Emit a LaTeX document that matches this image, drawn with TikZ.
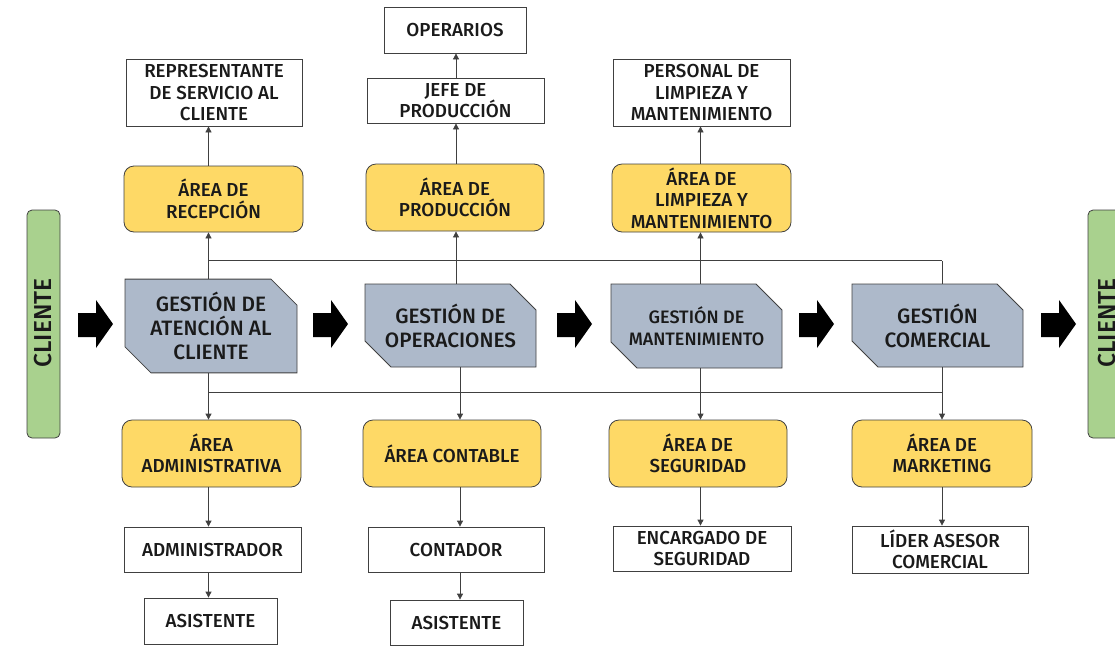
\documentclass[tikz,border=0pt]{standalone}
\usepackage{fontspec}
\setmainfont{Fira Sans Medium}
\usetikzlibrary{shapes.misc,arrows.meta}
\definecolor{areayel}{HTML}{FED966}
\definecolor{gestblue}{HTML}{ADB9CA}
\definecolor{cligreen}{HTML}{A9D18E}
\definecolor{edgegray}{HTML}{404040}
\definecolor{txt}{HTML}{1A1A1A}
\tikzset{
  base/.style={draw=edgegray, line width=0.8pt, text=txt, align=center, inner sep=0pt, font=\fontsize{18.8}{21.5}\selectfont},
  whitebox/.style={base, rectangle, fill=white},
  areabox/.style={base, rectangle, rounded corners=10pt, fill=areayel},
  gestbox/.style={base, chamfered rectangle, chamfered rectangle corners={north east,south west},
     chamfered rectangle xsep=13pt, chamfered rectangle ysep=13pt, fill=gestblue,
     font=\fontsize{20.8}{24}\selectfont},
  clientbox/.style={base, rectangle, rounded corners=5pt, fill=cligreen, minimum width=33pt, minimum height=228pt},
  cliText/.style={rotate=90, font=\fontsize{24.5}{26}\selectfont, text=txt, inner sep=0pt},
  conn/.style={draw=edgegray, line width=0.8pt},
  arr/.style={conn, -{Triangle[length=6pt,width=6pt]}},
}
\newcommand\fatarrowat[1]{%
  \fill[black] (#1,313) -- ++(18,0) -- ++(0,-13) -- ++(17,24) -- ++(-17,24) -- ++(0,-11) -- ++(-18,0) -- cycle;}
\begin{document}
\begin{tikzpicture}[x=1pt,y=-1pt]
\useasboundingbox (0,0) rectangle (1115,654);
% column guide coordinates
\coordinate (c1) at (208.5,0);
\coordinate (c2) at (456,0);
\coordinate (c2b) at (460,0);
\coordinate (c3) at (700.5,0);
\coordinate (c4) at (942,0);
\coordinate (toprail) at (0,260.5);
\coordinate (botrail) at (0,392);

% clients
\node[clientbox] (cliL) at (43.5,324) {};
\node[cliText] (cliLt) at (43.5,323) {CLIENTE};
\node[clientbox] (cliR) at (1104.5,324) {};
\node[cliText] (cliRt) at (1107,323) {CLIENTE};

% column 1
\node[whitebox, minimum width=176pt, minimum height=67pt] (rep) at (214,92.5) {REPRESENTANTE\\DE SERVICIO AL\\CLIENTE};
\node[areabox, minimum width=179pt, minimum height=66pt] (recep) at (213.5,199) {ÁREA DE\\RECEPCIÓN};
\node[gestbox, minimum width=172pt, minimum height=84pt] (g1) at (211,326) {GESTIÓN DE\\ATENCIÓN AL\\CLIENTE};
\node[areabox, minimum width=179pt, minimum height=67pt] (adm) at (211.5,453.5) {ÁREA\\ADMINISTRATIVA};
\node[whitebox, minimum width=177pt, minimum height=45pt] (admr) at (212.5,549.5) {ADMINISTRADOR};
\node[whitebox, minimum width=133pt, minimum height=46pt] (asis1) at (210.5,621) {ASISTENTE};

% column 2
\node[whitebox, minimum width=142pt, minimum height=46pt] (oper) at (455,30) {OPERARIOS};
\node[whitebox, minimum width=177pt, minimum height=45pt] (jefe) at (455.5,100.5) {JEFE DE\\PRODUCCIÓN};
\node[areabox, minimum width=178pt, minimum height=67pt] (prod) at (455,197.5) {ÁREA DE\\PRODUCCIÓN};
\node[gestbox, minimum width=171pt, minimum height=83pt] (g2) at (450.5,325.5) {GESTIÓN DE\\OPERACIONES};
\node[areabox, minimum width=178pt, minimum height=67pt] (cont) at (452,453.5) {ÁREA CONTABLE};
\node[whitebox, minimum width=176pt, minimum height=45pt] (contr) at (456,549.5) {CONTADOR};
\node[whitebox, minimum width=133pt, minimum height=45pt] (asis2) at (456.5,622.5) {ASISTENTE};

% column 3
\node[whitebox, minimum width=177pt, minimum height=67pt] (pers) at (701.5,92.5) {PERSONAL DE\\LIMPIEZA Y\\MANTENIMIENTO};
\node[areabox, minimum width=179pt, minimum height=68pt] (limp) at (701.5,198) {ÁREA DE\\LIMPIEZA Y\\MANTENIMIENTO};
\node[gestbox, minimum width=171pt, minimum height=84pt, font=\fontsize{18}{22}\selectfont] (g3) at (696.5,326) {GESTIÓN DE\\MANTENIMIENTO};
\node[areabox, minimum width=178pt, minimum height=67pt] (seg) at (698,453.5) {ÁREA DE\\SEGURIDAD};
\node[whitebox, minimum width=178pt, minimum height=45pt] (enc) at (702,548.5) {ENCARGADO DE\\SEGURIDAD};

% column 4
\node[gestbox, minimum width=171pt, minimum height=83pt] (g4) at (937.5,325.5) {GESTIÓN\\COMERCIAL};
\node[areabox, minimum width=180pt, minimum height=67pt] (mkt) at (942,453.5) {ÁREA DE\\MARKETING};
\node[whitebox, minimum width=176pt, minimum height=47pt] (lider) at (940,549.5) {LÍDER ASESOR\\COMERCIAL};

% big process arrows
\fatarrowat{78}
\fatarrowat{313}
\fatarrowat{557}
\fatarrowat{799}
\fatarrowat{1041}

% upper connectors
\draw[conn] (c1 |- toprail) -- (c4 |- toprail);
\draw[arr] (g1.north -| c1) -- (recep.south -| c1);
\draw[arr] (g2.north -| c2) -- (prod.south -| c2);
\draw[arr] (g3.north -| c3) -- (limp.south -| c3);
\draw[conn] (g4.north -| c4) -- (c4 |- toprail);
\draw[arr] (recep.north -| c1) -- (rep.south -| c1);
\draw[arr] (prod.north -| c2) -- (jefe.south -| c2);
\draw[arr] (jefe.north -| c2) -- (oper.south -| c2);
\draw[arr] (limp.north -| c3) -- (pers.south -| c3);

% lower connectors
\draw[conn] (c1 |- botrail) -- (c4 |- botrail);
\draw[arr] (g1.south -| c1) -- (adm.north -| c1);
\draw[arr] (g2.south -| c2b) -- (cont.north -| c2b);
\draw[arr] (g3.south -| c3) -- (seg.north -| c3);
\draw[arr] (g4.south -| c4) -- (mkt.north -| c4);
\draw[arr] (adm.south -| c1) -- (admr.north -| c1);
\draw[arr] (admr.south -| c1) -- (asis1.north -| c1);
\draw[arr] (cont.south -| c2b) -- (contr.north -| c2b);
\draw[arr] (contr.south -| c2b) -- (asis2.north -| c2b);
\draw[arr] (seg.south -| c3) -- (enc.north -| c3);
\draw[arr] (mkt.south -| c4) -- (lider.north -| c4);
\end{tikzpicture}
\end{document}
